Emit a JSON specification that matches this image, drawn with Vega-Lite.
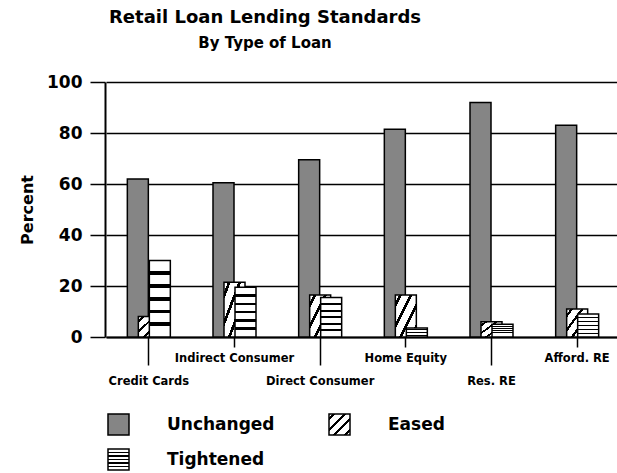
{
  "$schema": "https://vega.github.io/schema/vega-lite/v6.json",
  "autosize": "none",
  "padding": {"left": 105, "top": 82, "right": 0, "bottom": 136},
  "width": 512,
  "height": 255,
  "background": "white",
  "config": {"font": "DejaVu Sans", "view": {"stroke": null}, "legend": {"symbolBaseStrokeColor": "black"}},
  "title": {
    "text": "Retail Loan Lending Standards",
    "subtitle": "By Type of Loan",
    "anchor": "middle",
    "dx": -96,
    "font": "DejaVu Sans",
    "fontSize": 18,
    "fontWeight": "bold",
    "color": "black",
    "subtitleFont": "DejaVu Sans",
    "subtitleFontSize": 15,
    "subtitleFontWeight": "bold",
    "subtitleColor": "black",
    "subtitlePadding": 9,
    "offset": 22
  },
  "data": {
    "values": [
      {"loan": "Credit Cards", "response": "Unchanged", "percent": 62},
      {"loan": "Credit Cards", "response": "Eased", "percent": 8},
      {"loan": "Credit Cards", "response": "Tightened", "percent": 30},
      {"loan": "Indirect Consumer", "response": "Unchanged", "percent": 60.5},
      {"loan": "Indirect Consumer", "response": "Eased", "percent": 21.5},
      {"loan": "Indirect Consumer", "response": "Tightened", "percent": 19.5},
      {"loan": "Direct Consumer", "response": "Unchanged", "percent": 69.5},
      {"loan": "Direct Consumer", "response": "Eased", "percent": 16.5},
      {"loan": "Direct Consumer", "response": "Tightened", "percent": 15.5},
      {"loan": "Home Equity", "response": "Unchanged", "percent": 81.5},
      {"loan": "Home Equity", "response": "Eased", "percent": 16.5},
      {"loan": "Home Equity", "response": "Tightened", "percent": 3.5},
      {"loan": "Res. RE", "response": "Unchanged", "percent": 92},
      {"loan": "Res. RE", "response": "Eased", "percent": 6},
      {"loan": "Res. RE", "response": "Tightened", "percent": 5},
      {"loan": "Afford. RE", "response": "Unchanged", "percent": 83},
      {"loan": "Afford. RE", "response": "Eased", "percent": 11},
      {"loan": "Afford. RE", "response": "Tightened", "percent": 9}
    ]
  },
  "encoding": {
    "x": {
      "field": "loan",
      "type": "nominal",
      "sort": ["Credit Cards", "Indirect Consumer", "Direct Consumer", "Home Equity", "Res. RE", "Afford. RE"],
      "scale": {"range": [1, 515], "paddingInner": 0, "paddingOuter": 0},
      "axis": {
        "title": null,
        "labelAngle": 0,
        "domainColor": "black",
        "domainWidth": 2,
        "tickColor": "black",
        "tickWidth": 1.5,
        "tickSize": {"condition": {"test": "indexof(['Credit Cards','Direct Consumer','Res. RE'], datum.value) >= 0", "value": 28}, "value": 10},
        "labelPadding": {"condition": {"test": "indexof(['Credit Cards','Direct Consumer','Res. RE'], datum.value) >= 0", "value": 10}, "value": 5},
        "labelFont": "DejaVu Sans",
        "labelFontSize": 11.5,
        "labelFontWeight": "bold",
        "labelColor": "black",
        "labelOverlap": false,
        "labelFlush": false,
        "labelBound": false
      }
    },
    "y": {
      "field": "percent",
      "type": "quantitative",
      "scale": {"domain": [0, 100], "nice": false},
      "axis": {
        "title": "Percent",
        "values": [0, 20, 40, 60, 80, 100],
        "grid": true,
        "gridColor": "black",
        "gridWidth": 1.5,
        "gridOpacity": 1,
        "domainColor": "black",
        "domainWidth": 2,
        "tickColor": "black",
        "tickSize": 15,
        "tickWidth": 1.5,
        "labelFont": "DejaVu Sans",
        "labelFontSize": 17,
        "labelFontWeight": "bold",
        "labelColor": "black",
        "labelPadding": 8,
        "titleFont": "DejaVu Sans",
        "titleFontSize": 16,
        "titleFontWeight": "bold",
        "titleColor": "black",
        "titlePadding": 11
      }
    },
    "fill": {
      "field": "response",
      "type": "nominal",
      "scale": {
        "domain": ["Unchanged", "Eased", "Tightened"],
        "range": [
          "#858585",
          {"expr": "{gradient: 'linear', x1: 0, y1: 0, x2: 1, y2: 1, stops: [{offset: 0, color: 'white'}, {offset: 0.09, color: 'white'}, {offset: 0.09, color: 'black'}, {offset: 0.16, color: 'black'}, {offset: 0.16, color: 'white'}, {offset: 0.34, color: 'white'}, {offset: 0.34, color: 'black'}, {offset: 0.41, color: 'black'}, {offset: 0.41, color: 'white'}, {offset: 0.59, color: 'white'}, {offset: 0.59, color: 'black'}, {offset: 0.66, color: 'black'}, {offset: 0.66, color: 'white'}, {offset: 0.84, color: 'white'}, {offset: 0.84, color: 'black'}, {offset: 0.91, color: 'black'}, {offset: 0.91, color: 'white'}, {offset: 1, color: 'white'}]}"},
          {"expr": "{gradient: 'linear', x1: 0, y1: 0, x2: 0, y2: 1, stops: [{offset: 0, color: 'white'}, {offset: 0.142, color: 'white'}, {offset: 0.142, color: 'black'}, {offset: 0.192, color: 'black'}, {offset: 0.192, color: 'white'}, {offset: 0.308, color: 'white'}, {offset: 0.308, color: 'black'}, {offset: 0.358, color: 'black'}, {offset: 0.358, color: 'white'}, {offset: 0.475, color: 'white'}, {offset: 0.475, color: 'black'}, {offset: 0.525, color: 'black'}, {offset: 0.525, color: 'white'}, {offset: 0.642, color: 'white'}, {offset: 0.642, color: 'black'}, {offset: 0.692, color: 'black'}, {offset: 0.692, color: 'white'}, {offset: 0.808, color: 'white'}, {offset: 0.808, color: 'black'}, {offset: 0.858, color: 'black'}, {offset: 0.858, color: 'white'}, {offset: 1, color: 'white'}]}"}
        ]
      },
      "legend": {
        "orient": "none",
        "legendX": 2,
        "legendY": 331,
        "direction": "horizontal",
        "columns": 2,
        "title": null,
        "symbolType": "square",
        "symbolSize": 441,
        "symbolStrokeWidth": 1.5,
        "labelFont": "DejaVu Sans",
        "labelFontSize": 17,
        "labelFontWeight": "bold",
        "labelColor": "black",
        "labelOffset": 37,
        "columnPadding": 51,
        "rowPadding": 8
      }
    }
  },
  "layer": [
    {
      "transform": [{"filter": "datum.response === 'Unchanged'"}],
      "mark": {"type": "bar", "width": 21, "xOffset": -11, "stroke": "black", "strokeWidth": 1.5}
    },
    {
      "transform": [{"filter": "datum.response === 'Eased'"}],
      "mark": {"type": "bar", "width": 21, "xOffset": 0, "stroke": "black", "strokeWidth": 1.5}
    },
    {
      "transform": [{"filter": "datum.response === 'Tightened'"}],
      "mark": {"type": "bar", "width": 21, "xOffset": 11, "stroke": "black", "strokeWidth": 1.5}
    }
  ]
}
